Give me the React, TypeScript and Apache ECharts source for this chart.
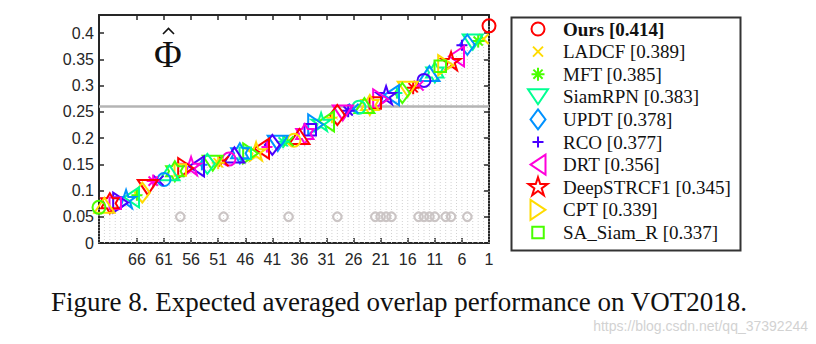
import React, { useEffect, useRef } from 'react';
import * as echarts from 'echarts';

// ---------- data ----------
const TOP_NAMES = ['Ours', 'LADCF', 'MFT', 'SiamRPN', 'UPDT', 'RCO', 'DRT', 'DeepSTRCF1', 'CPT', 'SA_Siam_R'];
// EAO by rank (1 = best, 73 = worst)
const EAO = [
  0.414, 0.389, 0.385, 0.383, 0.378, 0.377, 0.356, 0.345, 0.339, 0.337,
  0.325, 0.323, 0.310, 0.300, 0.296, 0.293, 0.286, 0.286, 0.282, 0.280,
  0.274, 0.267, 0.263, 0.262, 0.259, 0.256, 0.252, 0.248, 0.244, 0.239,
  0.232, 0.229, 0.226, 0.216, 0.208, 0.203, 0.196, 0.194, 0.193, 0.190,
  0.187, 0.183, 0.180, 0.173, 0.171, 0.171, 0.171, 0.168, 0.160, 0.156,
  0.153, 0.152, 0.151, 0.149, 0.146, 0.145, 0.143, 0.139, 0.137, 0.134,
  0.121, 0.119, 0.118, 0.106, 0.096, 0.091, 0.087, 0.082, 0.077, 0.076,
  0.076, 0.072, 0.068,
];
const BOUND_RANKS = [5, 8, 9, 11, 12, 13, 14, 19, 20, 21, 22, 29, 38, 50, 58];
const BOUND_MARK_Y = 0.05;
const SOTA_BOUND = 0.255;
const X_TICKS = [1, 6, 11, 16, 21, 26, 31, 36, 41, 46, 51, 56, 61, 66];
const Y_TICKS = [0, 0.05, 0.1, 0.15, 0.2, 0.25, 0.3, 0.35, 0.4];
const CAPTION = 'Figure 8. Expected averaged overlap performance on VOT2018.';
const WATERMARK = 'https://blog.csdn.net/qq_37392244';

// ---------- styles ----------
const PALETTE = ['#FF0000', '#FFDB00', '#49FF00', '#00FF92', '#0092FF', '#4900FF', '#FF00DB'];
const FRAME = 'M0,0M22,22';
function starPath(n: number, R: number, r: number): string {
  const pts: string[] = [];
  for (let k = 0; k < 2 * n; k++) {
    const a = -Math.PI / 2 + (k * Math.PI) / n;
    const rad = k % 2 === 0 ? R : r;
    pts.push(`${(11 + rad * Math.cos(a)).toFixed(2)},${(11 + rad * Math.sin(a)).toFixed(2)}`);
  }
  return 'M' + pts.join('L') + 'Z';
}
const MARKERS = [
  'M4.5,11A6.5,6.5 0 1,1 17.5,11A6.5,6.5 0 1,1 4.5,11Z', // o
  'M6,6L16,16M16,6L6,16', // x
  'M11,4.5L11,17.5M4.5,11L17.5,11M6.4,6.4L15.6,15.6M15.6,6.4L6.4,15.6', // *
  'M1,3.5L21,3.5L11,18.5Z', // v
  'M11,1L18.5,11L11,21L3.5,11Z', // d
  'M11,5.5L11,16.5M5.5,11L16.5,11', // +
  'M3.5,11L18.5,1L18.5,21Z', // <
  starPath(5, 10, 3.82), // p
  'M18.5,11L3.5,1L3.5,21Z', // >
  'M5.25,5.25L16.75,5.25L16.75,16.75L5.25,16.75Z', // s
  starPath(6, 10, 5.77), // h
  'M1,18.5L21,18.5L11,3.5Z', // ^
].map((d) => 'path://' + FRAME + d);

const AXIS_COLOR = '#262626';
const SANS = 'Liberation Sans, Arial, Helvetica, sans-serif';
const SERIF = 'Liberation Serif, Times New Roman, serif';

export default function App() {
  const ref = useRef<HTMLDivElement>(null);
  useEffect(() => {
    if (!ref.current) return;
    const chart = echarts.init(ref.current, undefined, { renderer: 'svg' });

    const topSeries = TOP_NAMES.map((name, i) => ({
      type: 'scatter',
      name,
      data: [[i + 1, EAO[i]]],
      symbol: MARKERS[i % 12],
      symbolSize: 22,
      clip: false,
      silent: true,
      z: 6,
      itemStyle: { color: 'rgba(0,0,0,0)', borderColor: PALETTE[i % 7], borderWidth: 2, opacity: 1 },
    }));

    const others = EAO.slice(TOP_NAMES.length).map((v, j) => {
      const i = j + TOP_NAMES.length;
      return {
        value: [i + 1, v],
        symbol: MARKERS[i % 12],
        itemStyle: { borderColor: PALETTE[i % 7] },
      };
    });

    const axisCommon = {
      axisLine: { show: true, onZero: false, lineStyle: { color: AXIS_COLOR, width: 2 } },
      splitLine: { show: false },
    };

    const option: any = {
      animation: false,
      backgroundColor: '#ffffff',
      grid: { left: 99, right: 327, top: 15, bottom: 101, containLabel: false },
      xAxis: [
        {
          type: 'value', min: 1, max: 73, inverse: true, position: 'bottom',
          ...axisCommon,
          axisTick: { show: true, inside: true, length: 5, customValues: X_TICKS, lineStyle: { color: AXIS_COLOR, width: 1.5 } },
          axisLabel: { show: true, customValues: X_TICKS, fontSize: 16, color: AXIS_COLOR, fontFamily: SANS, margin: 8 },
        },
        {
          type: 'value', min: 1, max: 73, inverse: true, position: 'top',
          ...axisCommon,
          axisTick: { show: true, inside: true, length: 5, customValues: X_TICKS, lineStyle: { color: AXIS_COLOR, width: 1.5 } },
          axisLabel: { show: false },
        },
      ],
      yAxis: [
        {
          type: 'value', min: 0, max: 0.4347, position: 'left',
          ...axisCommon,
          axisTick: { show: true, inside: true, length: 5, customValues: Y_TICKS, lineStyle: { color: AXIS_COLOR, width: 1.5 } },
          axisLabel: {
            show: true, customValues: Y_TICKS, fontSize: 16, color: AXIS_COLOR, fontFamily: SANS, margin: 5,
            formatter: (v: number) => String(Math.round(v * 100) / 100),
          },
        },
        {
          type: 'value', min: 0, max: 0.4347, position: 'right',
          ...axisCommon,
          axisTick: { show: true, inside: true, length: 5, customValues: Y_TICKS, lineStyle: { color: AXIS_COLOR, width: 1.5 } },
          axisLabel: { show: false },
        },
      ],
      legend: {
        show: true,
        orient: 'vertical',
        left: 526,
        top: 17,
        padding: 0,
        itemGap: -1.4,
        itemWidth: 40,
        itemHeight: 22,
        selectedMode: false,
        textStyle: { fontFamily: SERIF, fontSize: 19, color: '#111111' },
        formatter: (name: string) => {
          const i = TOP_NAMES.indexOf(name);
          return `${name} [${EAO[i].toFixed(3)}]`;
        },
        data: TOP_NAMES.map((name, i) => ({
          name,
          icon: MARKERS[i % 12],
          itemStyle: { color: 'rgba(0,0,0,0)', borderColor: PALETTE[i % 7], borderWidth: 2 },
          textStyle: i === 0 ? { fontWeight: 'bold', fontFamily: SERIF, fontSize: 19, color: '#111111' } : undefined,
        })),
      },
      graphic: [
        {
          type: 'rect', left: 509, top: 15, silent: true,
          shape: { width: 229, height: 233 },
          style: { fill: 'none', stroke: '#333333', lineWidth: 2 },
        },
        {
          type: 'text', x: 168, y: 54, silent: true,
          style: { text: 'Φ', fontSize: 38, fontFamily: SERIF, fill: '#111111', align: 'center', verticalAlign: 'middle' },
        },
        {
          type: 'polyline', silent: true,
          shape: { points: [[163, 34], [168.5, 28.5], [174, 34]] },
          style: { stroke: '#111111', lineWidth: 1.6, fill: 'none' },
        },
        {
          type: 'text', x: 399, y: 302, silent: true,
          style: { text: CAPTION, fontSize: 27, fontFamily: SERIF, fill: '#111111', align: 'center', verticalAlign: 'middle' },
        },
        {
          type: 'text', x: 808, y: 326, silent: true,
          style: { text: WATERMARK, fontSize: 14, fontFamily: SANS, fill: '#d2d2d2', align: 'right', verticalAlign: 'middle' },
        },
      ],
      series: [
        {
          type: 'custom',
          name: 'stems',
          silent: true,
          z: 1,
          data: EAO.map((v, i) => [i + 1, v]),
          renderItem: (params: any, api: any) => {
            const p0 = api.coord([api.value(0), 0]);
            const p1 = api.coord([api.value(0), api.value(1)]);
            return {
              type: 'line',
              shape: { x1: p0[0], y1: p0[1], x2: p1[0], y2: p1[1] },
              style: { stroke: '#d2d2d2', lineWidth: 1, lineDash: [1, 2] },
            };
          },
        },
        {
          type: 'scatter',
          name: 'bound',
          silent: true,
          z: 3,
          symbol: 'circle',
          symbolSize: 8.5,
          data: BOUND_RANKS.map((r) => [r, BOUND_MARK_Y]),
          itemStyle: { color: 'rgba(0,0,0,0)', borderColor: '#cbc5c5', borderWidth: 2.2, opacity: 1 },
          markLine: {
            silent: true,
            symbol: ['none', 'none'],
            label: { show: false },
            lineStyle: { color: '#b4b4b4', width: 2.5, type: 'solid' },
            data: [{ yAxis: SOTA_BOUND }],
          },
        },
        {
          type: 'scatter',
          name: 'others',
          silent: true,
          z: 5,
          clip: false,
          symbolSize: 22,
          data: others,
          itemStyle: { color: 'rgba(0,0,0,0)', borderWidth: 2, opacity: 1 },
        },
        ...topSeries,
      ],
    };

    chart.setOption(option);
    return () => chart.dispose();
  }, []);

  return (
    <div
      ref={ref}
      style={{ position: 'absolute', left: 0, top: 0, width: 816, height: 344, background: '#fff' }}
    />
  );
}
